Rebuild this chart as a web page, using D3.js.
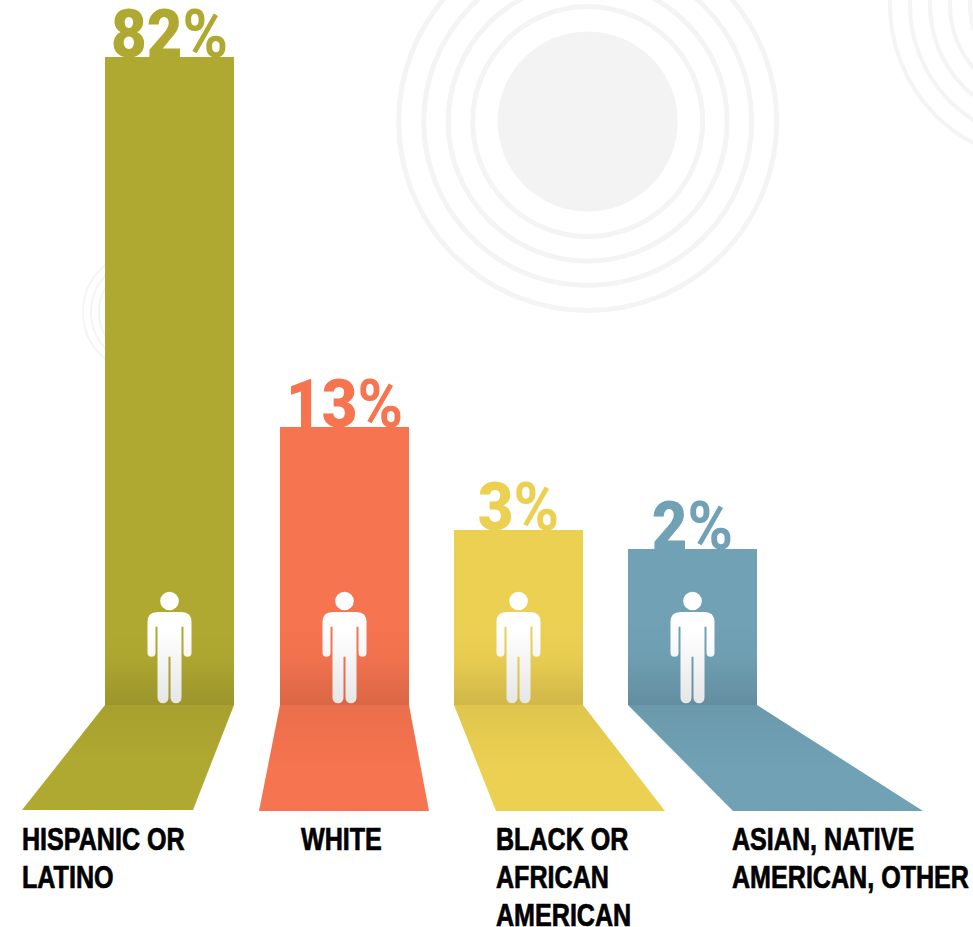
<!DOCTYPE html>
<html>
<head>
<meta charset="utf-8">
<script src="https://cdn.jsdelivr.net/npm/d3@7"></script>
<style>
  html, body { margin: 0; padding: 0; background: #fff; overflow: hidden; }
  svg { display: block; }
  .pct { font-family: Roboto, sans-serif; font-weight: 900; }
  .pct .sign { font-weight: 700; }
  .cat { font-family: "Liberation Sans", sans-serif; font-weight: 700; fill: #000; stroke: #000; stroke-width: .7px; }
</style>
</head>
<body>
<svg id="chart" width="973" height="927"></svg>
<script>
// Share of people by race and ethnicity
const categories = ["Hispanic or Latino", "White", "Black or African American", "Asian, Native American, Other"];
const shares = [82, 13, 3, 2];
const labelLines = [
  ["HISPANIC OR", "LATINO"],
  ["WHITE"],
  ["BLACK OR", "AFRICAN", "AMERICAN"],
  ["ASIAN, NATIVE", "AMERICAN, OTHER"]
];
const colours = ["#b0a931", "#f6744f", "#ecd052", "#70a1b5"];

const width = 973, height = 927;
const groundY = 705;

const svg = d3.select("#chart");
const defs = svg.append("defs");

const x = d3.scaleBand().domain(categories).range([105.4, 757.4]).paddingInner(0.26).paddingOuter(0);
const barLeft = c => Math.round(x(c));
const barWidth = Math.round(x.bandwidth());
// The bars use a compressed, non-proportional value axis
const y = d3.scaleLinear().domain([2, 3, 13, 82]).range([549, 530, 427, 57]);

// Floor panels: how far each front corner leans from the bar's base, and the panel depth
const floorLean = [[-83, -41], [-21, 20], [42, 82], [105, 166]];
const floorDepth = [105, 106, 106, 106];
const labelX = [22, 301, 496, 732];

// Background concentric rings
const ringGroups = [
  { cx: 587.7, cy: 121.5, radii: [115, 139.5, 164, 189], sw: 5, disc: 90 },
  { cx: 1046, cy: 5, radii: [76, 96, 116, 136, 156], sw: 4 },
  { cx: 144, cy: 312, radii: [45, 53, 61], sw: 2 }
];
const bg = svg.append("g").attr("fill", "none");
ringGroups.forEach(g => {
  bg.selectAll(null).data(g.radii).join("circle")
    .attr("cx", g.cx).attr("cy", g.cy).attr("r", d => d)
    .attr("stroke", "#f4f4f4").attr("stroke-width", g.sw);
  if (g.disc) bg.append("circle").attr("cx", g.cx).attr("cy", g.cy).attr("r", g.disc).attr("fill", "#f3f3f3");
});

// Shared shading gradients
const shade = defs.append("linearGradient").attr("id", "barShade").attr("x1", 0).attr("x2", 0).attr("y1", 0).attr("y2", 1);
shade.append("stop").attr("offset", 0).attr("stop-color", "#000").attr("stop-opacity", 0);
shade.append("stop").attr("offset", 0.45).attr("stop-color", "#000").attr("stop-opacity", 0.02);
shade.append("stop").attr("offset", 1).attr("stop-color", "#000").attr("stop-opacity", 0.12);

const floorShade = defs.append("linearGradient").attr("id", "floorShade").attr("x1", 0).attr("x2", 0).attr("y1", 0).attr("y2", 1);
floorShade.append("stop").attr("offset", 0).attr("stop-color", "#000").attr("stop-opacity", 0.05);
floorShade.append("stop").attr("offset", 0.6).attr("stop-color", "#000").attr("stop-opacity", 0);

const figureFill = defs.append("linearGradient").attr("id", "figureFill").attr("x1", 0).attr("x2", 0).attr("y1", 0).attr("y2", 1);
figureFill.append("stop").attr("offset", 0.2).attr("stop-color", "#ffffff");
figureFill.append("stop").attr("offset", 1).attr("stop-color", "#e6e6e6");

const figurePath = "M-12-93H12Q22-93 22-83V-52.3a4 4 0 0 1-8 0V-78.3H12V-7.2a5.5 5.5 0 0 1-11 0V-48.3H-1V-7.2a5.5 5.5 0 0 1-11 0V-78.3H-14V-52.3a4 4 0 0 1-8 0V-83Q-22-93-12-93Z";

const rows = categories.map((c, i) => ({ c, i, v: shares[i], colour: colours[i] }));
const groups = svg.selectAll("g.col").data(rows).join("g").attr("class", "col");

const floorOutline = d => {
  const l = barLeft(d.c), r = l + barWidth, [a, b] = floorLean[d.i], by = groundY + floorDepth[d.i];
  return d3.line()([[l, groundY], [r, groundY], [r + b, by], [l + a, by]]) + "Z";
};

// Floor panel
groups.append("path").attr("fill", d => d.colour).attr("d", floorOutline);
groups.append("path").attr("fill", "url(#floorShade)").attr("d", floorOutline);

// Bar and its darkening toward the ground
groups.append("rect")
  .attr("x", d => barLeft(d.c)).attr("width", barWidth)
  .attr("y", d => y(d.v)).attr("height", d => groundY - y(d.v))
  .attr("fill", d => d.colour);
groups.append("rect")
  .attr("x", d => barLeft(d.c)).attr("width", barWidth)
  .attr("y", groundY - 85).attr("height", 85)
  .attr("fill", "url(#barShade)");

// Percentage figure standing on the bar top
const pct = groups.append("text").attr("class", "pct")
  .attr("fill", d => d.colour)
  .attr("font-size", 67)
  .attr("text-anchor", "middle")
  .attr("transform", d => `translate(${barLeft(d.c) + barWidth / 2},${y(d.v)}) scale(.92,1)`);
pct.append("tspan").text(d => d.v);
pct.append("tspan").attr("class", "sign").text("%");

// Standing person
const person = groups.append("g")
  .attr("transform", d => `translate(${barLeft(d.c) + barWidth / 2},${groundY})`);
person.append("circle").attr("cy", -104).attr("r", 9.3).attr("fill", "#fff");
person.append("path").attr("d", figurePath).attr("fill", "url(#figureFill)");

// Category labels
groups.each(function (d) {
  d3.select(this).selectAll("text.cat").data(labelLines[d.i]).join("text")
    .attr("class", "cat")
    .attr("font-size", 31)
    .attr("transform", (line, k) => `translate(${labelX[d.i]},${850 + k * 37.8}) scale(.81,1)`)
    .text(line => line);
});
</script>
</body>
</html>
